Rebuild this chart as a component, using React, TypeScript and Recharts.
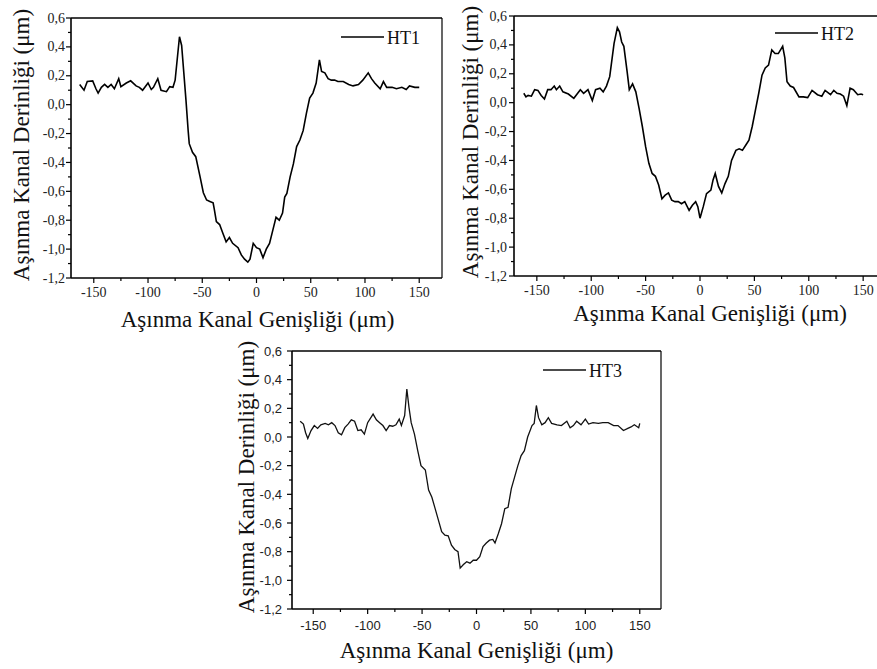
import { LineChart, Line, XAxis, YAxis, ReferenceLine, Legend } from "recharts";

// tick positions shared by the three panels
const X_TICKS = [-150, -125, -100, -75, -50, -25, 0, 25, 50, 75, 100, 125, 150];
const Y_TICKS = [
  -1.2, -1.1, -1.0, -0.9, -0.8, -0.7, -0.6, -0.5, -0.4, -0.3, -0.2, -0.1, 0, 0.1, 0.2, 0.3, 0.4, 0.5, 0.6,
];
const Y_TITLE = "Aşınma Kanal Derinliği (μm)";
const X_TITLE = "Aşınma Kanal Genişliği (μm)";

// HT1 profile
const HT1_X = [
  -163, -159, -156, -151, -148, -146, -143, -140, -137, -134, -131, -127, -125, -120, -116, -111, -108, -105, -100,
  -97, -95, -91, -88, -83, -80, -77, -75, -71, -69, -67, -65, -63, -62, -59, -56, -52, -49, -46, -43, -40, -39, -37,
  -34, -31, -28, -25, -22, -17, -14, -11, -8, -6, -3, 0, 3, 6, 9, 12, 15, 18, 21, 24, 26, 28, 31, 34, 37, 40, 43, 46,
  49, 52, 55, 58, 60, 63, 66, 69, 72, 75, 80, 85, 89, 94, 98, 103, 106, 109, 114, 117, 120, 125, 129, 134, 138, 141,
  146, 150,
];
const HT1_Y = [
  0.14, 0.1, 0.16, 0.165, 0.11, 0.08, 0.12, 0.14, 0.12, 0.14, 0.11, 0.18, 0.125, 0.15, 0.165, 0.13, 0.12, 0.1, 0.15,
  0.105, 0.12, 0.18, 0.1, 0.09, 0.125, 0.12, 0.17, 0.47, 0.41, 0.22, 0.03, -0.18, -0.27, -0.33, -0.36, -0.5, -0.61,
  -0.66, -0.67, -0.68, -0.72, -0.81, -0.83, -0.89, -0.95, -0.92, -0.96, -0.99, -1.04, -1.07, -1.09, -1.07, -0.96,
  -0.99, -1.0, -1.06, -1.0, -0.96, -0.87, -0.78, -0.8, -0.75, -0.64, -0.615, -0.5, -0.41, -0.29, -0.245, -0.18, -0.06,
  0.045, 0.08, 0.15, 0.31, 0.23, 0.22, 0.18, 0.17, 0.17, 0.16, 0.16, 0.14, 0.13, 0.14, 0.17, 0.22, 0.18, 0.15, 0.11,
  0.16, 0.12, 0.12, 0.11, 0.12, 0.105, 0.13, 0.12, 0.12,
];

// HT2 profile
const HT2_X = [
  -162, -160, -158, -155, -152, -149, -146, -143, -140, -137, -134, -132, -129, -126, -121, -116, -113, -110, -107,
  -103, -99, -96, -92, -89, -86, -83, -79, -76, -74, -72, -70, -67, -65, -62, -59, -56, -53, -50, -47, -44, -41, -38,
  -35, -32, -29, -26, -23, -20, -17, -14, -10, -7, -4, -2, 0, 3, 6, 10, 12, 14, 17, 20, 23, 26, 29, 33, 36, 39, 42, 45,
  48, 51, 54, 57, 60, 63, 66, 69, 72, 76, 78, 80, 83, 86, 91, 95, 99, 103, 108, 112, 115, 120, 123, 126, 129, 132, 135,
  138, 141, 145, 148, 150,
];
const HT2_Y = [
  0.065, 0.04, 0.05, 0.045, 0.09, 0.085, 0.05, 0.025, 0.09, 0.09, 0.115, 0.09, 0.115, 0.075, 0.06, 0.03, 0.06, 0.09,
  0.065, 0.09, 0.015, 0.09, 0.1, 0.075, 0.115, 0.18, 0.41, 0.52, 0.49, 0.42, 0.39, 0.215, 0.09, 0.13, 0.075, -0.04,
  -0.165, -0.305, -0.42, -0.49, -0.51, -0.57, -0.665, -0.64, -0.625, -0.675, -0.685, -0.685, -0.7, -0.685, -0.745,
  -0.71, -0.685, -0.72, -0.8, -0.72, -0.63, -0.605, -0.535, -0.49, -0.58, -0.625, -0.56, -0.51, -0.4, -0.33, -0.32,
  -0.33, -0.295, -0.26, -0.165, -0.05, 0.065, 0.19, 0.24, 0.26, 0.365, 0.34, 0.34, 0.39, 0.31, 0.145, 0.115, 0.105,
  0.04, 0.04, 0.035, 0.085, 0.055, 0.045, 0.085, 0.055, 0.085, 0.065, 0.06, 0.045, -0.02, 0.1, 0.09, 0.055, 0.06, 0.055,
];

// HT3 profile
const HT3_X = [
  -162, -159, -157, -155, -152, -149, -146, -143, -139, -136, -133, -130, -127, -124, -121, -118, -115, -112, -109,
  -106, -103, -100, -95, -92, -89, -86, -83, -80, -77, -74, -71, -69, -66, -64, -62, -60, -57, -54, -51, -47, -44, -41,
  -38, -35, -32, -29, -26, -23, -20, -17, -15, -12, -9, -6, -3, 0, 3, 6, 9, 12, 15, 17, 20, 23, 26, 29, 32, 35, 38, 41,
  44, 47, 51, 53, 55, 57, 60, 63, 66, 69, 74, 78, 83, 86, 89, 92, 96, 100, 103, 107, 112, 116, 121, 126, 130, 135, 139,
  142, 145, 149, 150,
];
const HT3_Y = [
  0.11, 0.09, 0.03, -0.01, 0.045, 0.08, 0.06, 0.085, 0.095, 0.085, 0.1, 0.08, 0.03, 0.015, 0.065, 0.09, 0.12, 0.11,
  0.045, 0.05, 0.02, 0.1, 0.16, 0.12, 0.1, 0.08, 0.045, 0.08, 0.075, 0.085, 0.125, 0.08, 0.15, 0.335, 0.205, 0.1, 0.02,
  -0.095, -0.2, -0.23, -0.37, -0.42, -0.5, -0.58, -0.66, -0.685, -0.69, -0.755, -0.785, -0.8, -0.915, -0.89, -0.87,
  -0.88, -0.86, -0.86, -0.835, -0.765, -0.74, -0.72, -0.715, -0.74, -0.675, -0.605, -0.5, -0.49, -0.36, -0.28, -0.2,
  -0.13, -0.095, 0.0, 0.08, 0.095, 0.22, 0.135, 0.085, 0.1, 0.135, 0.095, 0.085, 0.08, 0.11, 0.065, 0.08, 0.11, 0.085,
  0.125, 0.09, 0.1, 0.095, 0.1, 0.1, 0.08, 0.08, 0.045, 0.06, 0.07, 0.085, 0.065, 0.095,
];

const SERIF = '"Liberation Serif", "DejaVu Serif", serif';
const SANS = '"Liberation Sans", Arial, sans-serif';

function fmtY(v: number) {
  return v.toFixed(1).replace(".", ",");
}

const PANELS = [
  {
    name: "HT1", xs: HT1_X, ys: HT1_Y,
    left: 0, top: 0, margin: { top: 18, right: 18, bottom: 32, left: 21 },
    domain: [-171, 171], font: SERIF, tickFont: 14, yLabelGap: 6, xLabelDy: 19,
    yTitleX: 29, yTitleDy: -3, xTitleDx: 1, xTitleDy: 49,
    legend: { x: 341, y: 37 }, stroke: "#000", strokeWidth: 1.6,
  },
  {
    name: "HT2", xs: HT2_X, ys: HT2_Y,
    left: 440, top: 0, margin: { top: 16, right: 14, bottom: 34, left: 24 },
    domain: [-171, 171], font: SERIF, tickFont: 14, yLabelGap: 7, xLabelDy: 19,
    yTitleX: 38, yTitleDy: -4, xTitleDx: 10, xTitleDy: 45,
    legend: { x: 335, y: 33 }, stroke: "#000", strokeWidth: 1.6,
  },
  {
    name: "HT3", xs: HT3_X, ys: HT3_Y,
    left: 220, top: 330, margin: { top: 21, right: 19, bottom: 31, left: 22 },
    domain: [-169.5, 169.5], font: SANS, tickFont: 13, yLabelGap: 10, xLabelDy: 21,
    yTitleX: 34, yTitleDy: -3, xTitleDx: 0, xTitleDy: 49,
    legend: { x: 323, y: 40 }, stroke: "#111", strokeWidth: 1.3,
  },
];

type PanelCfg = (typeof PANELS)[number];

function Panel({ cfg }: { cfg: PanelCfg }) {
  const data = cfg.xs.map((x, i) => ({ x, y: cfg.ys[i] }));

  const xTick = (p: any) => {
    const major = p.payload.value % 50 === 0;
    return (
      <g>
        <line x1={p.x} x2={p.x} y1={p.y} y2={p.y + (major ? 5 : 3)} stroke="#000" strokeWidth={1.2} />
        {major && (
          <text x={p.x} y={p.y + cfg.xLabelDy} textAnchor="middle" fontFamily={cfg.font} fontSize={cfg.tickFont} fill="#222">
            {p.payload.value}
          </text>
        )}
      </g>
    );
  };

  const yTick = (p: any) => {
    const v = p.payload.value as number;
    const major = Math.round(Math.abs(v) * 10) % 2 === 0;
    return (
      <g>
        <line x1={p.x - (major ? 5 : 3)} x2={p.x} y1={p.y} y2={p.y} stroke="#000" strokeWidth={1.2} />
        {major && (
          <text x={p.x - cfg.yLabelGap} y={p.y + 4.5} textAnchor="end" fontFamily={cfg.font} fontSize={cfg.tickFont} fill="#222">
            {fmtY(v)}
          </text>
        )}
      </g>
    );
  };

  const yTitle = (p: any) => {
    const vb = p.viewBox;
    const cy = vb.y + vb.height / 2 + cfg.yTitleDy;
    return (
      <text
        x={cfg.yTitleX}
        y={cy}
        transform={`rotate(-90 ${cfg.yTitleX} ${cy})`}
        textAnchor="middle"
        fontFamily={SERIF}
        fontSize={23}
        fill="#111"
      >
        {Y_TITLE}
      </text>
    );
  };

  const xTitle = (p: any) => {
    const vb = p.viewBox;
    return (
      <text
        x={vb.x + vb.width / 2 + cfg.xTitleDx}
        y={vb.y + cfg.xTitleDy}
        textAnchor="middle"
        fontFamily={SERIF}
        fontSize={23}
        fill="#111"
      >
        {X_TITLE}
      </text>
    );
  };

  return (
    <div style={{ position: "absolute", left: cfg.left, top: cfg.top }}>
      <LineChart width={460} height={340} data={data} margin={cfg.margin}>
        <XAxis
          dataKey="x"
          type="number"
          domain={cfg.domain}
          ticks={X_TICKS}
          interval={0}
          allowDataOverflow
          height={30}
          tickSize={0}
          tickMargin={0}
          tickLine={false}
          axisLine={{ stroke: "#000", strokeWidth: 1.6 }}
          tick={xTick}
          label={{ content: xTitle }}
        />
        <YAxis
          type="number"
          domain={[-1.2, 0.6]}
          ticks={Y_TICKS}
          interval={0}
          allowDataOverflow
          width={50}
          tickSize={0}
          tickMargin={0}
          tickLine={false}
          axisLine={{ stroke: "#000", strokeWidth: 1.6 }}
          tick={yTick}
          label={{ content: yTitle }}
        />
        <ReferenceLine y={0.6} stroke="#000" strokeWidth={1.3} />
        <ReferenceLine x={cfg.domain[1]} stroke="#000" strokeWidth={1.2} />
        <Line
          dataKey="y"
          name={cfg.name}
          type="linear"
          stroke={cfg.stroke}
          strokeWidth={cfg.strokeWidth}
          dot={false}
          activeDot={false}
          isAnimationActive={false}
        />
        <Legend
          layout="horizontal"
          verticalAlign="middle"
          align="center"
          wrapperStyle={{ left: cfg.legend.x, top: cfg.legend.y - 12, width: 90, height: 24 }}
          content={() => (
            <svg width={90} height={24}>
              <line x1={0} x2={43} y1={12} y2={12} stroke={cfg.stroke} strokeWidth={cfg.strokeWidth} />
              <text x={46} y={19} fontFamily={SERIF} fontSize={18} fill="#111">
                {cfg.name}
              </text>
            </svg>
          )}
        />
      </LineChart>
    </div>
  );
}

export default function App() {
  return (
    <div
      style={{
        position: "fixed",
        left: 0,
        top: 0,
        width: 877,
        height: 669,
        overflow: "hidden",
        background: "#fff",
      }}
    >
      {PANELS.map((cfg) => (
        <Panel key={cfg.name} cfg={cfg} />
      ))}
    </div>
  );
}
